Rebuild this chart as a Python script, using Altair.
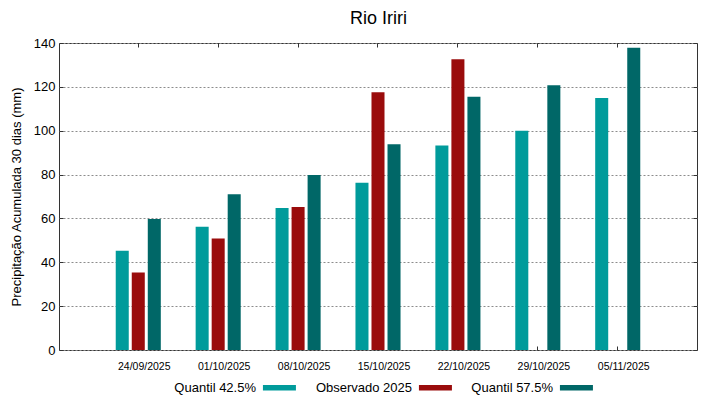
import altair as alt
import pandas as pd

dates = ["24/09/2025", "01/10/2025", "08/10/2025", "15/10/2025",
         "22/10/2025", "29/10/2025", "05/11/2025"]
series = ["Quantil 42.5%", "Observado 2025", "Quantil 57.5%"]
colors = ["#009b9b", "#9a0c0c", "#006767"]
q425 = [45.3, 56.2, 64.8, 76.3, 93.3, 100.0, 114.9]
obs = [35.3, 50.8, 65.2, 117.5, 132.6, None, None]
q575 = [59.7, 71.0, 79.8, 93.8, 115.5, 120.7, 137.8]
yticks = [0, 20, 40, 60, 80, 100, 120, 140]
chart_title = "Rio Iriri"

rows = []
for s, vals in zip(series, [q425, obs, q575]):
    for d, v in zip(dates, vals):
        if v is not None:
            rows.append({"date": d, "serie": s, "valor": v})
df = pd.DataFrame(rows)

W, H = 638, 307
FONT = "Liberation Sans"
xscale = alt.Scale(domain=dates, paddingInner=0.436, paddingOuter=0.71)
yscale = alt.Scale(domain=[0, 140], nice=False, zero=True)

bars = alt.Chart(df).mark_bar().encode(
    x=alt.X("date:N", scale=xscale, sort=dates, title=None,
            axis=alt.Axis(labelAngle=0, ticks=False, tickSize=0, domain=False, grid=False,
                          labelFontSize=10.5, labelPadding=11, labelOffset=6,
                          labelColor="#000", labelFont=FONT)),
    xOffset=alt.XOffset("serie:N", scale=alt.Scale(domain=series, paddingInner=0.1875, paddingOuter=0)),
    y=alt.Y("valor:Q", scale=yscale, title="Precipitação Acumulada 30 dias (mm)",
            axis=alt.Axis(values=yticks, ticks=False, tickSize=0, domain=False, grid=True,
                          gridDash=[2, 2], gridColor="#8c8c8c", gridWidth=1,
                          labelFontSize=13, labelPadding=4, labelColor="#000", labelFont=FONT,
                          titleFontSize=13, titleFontWeight="normal", titleColor="#000",
                          titleFont=FONT, titlePadding=10)),
    color=alt.Color("serie:N", scale=alt.Scale(domain=series, range=colors),
                    sort=series,
                    legend=alt.Legend(title=None, orient="none", legendX=164, legendY=328,
                                      direction="horizontal",
                                      symbolType="M1.42,-0.17L3.42,-0.17L3.42,0.17L1.42,0.17Z",
                                      symbolSize=1089, symbolStrokeWidth=0,
                                      labelAlign="right", labelOffset=0,
                                      labelFontSize=13, labelFont=FONT, labelColor="#000",
                                      columnPadding=19, padding=0)),
)

tick_kw = dict(labels=False, domain=False, grid=False, ticks=True, tickSize=4,
               tickColor="#333", tickWidth=1, title=None)

inner1 = alt.Chart(df).mark_point(opacity=0).encode(
    x=alt.X("date:N", scale=xscale, sort=dates, axis=alt.Axis(orient="top", offset=-H, **tick_kw)),
    y=alt.Y("valor:Q", scale=yscale, axis=alt.Axis(orient="right", offset=-W, values=yticks, **tick_kw)),
)
inner2 = alt.Chart(df).mark_point(opacity=0).encode(
    x=alt.X("date:N", scale=xscale, sort=dates, axis=alt.Axis(orient="bottom", offset=-H, **tick_kw)),
    y=alt.Y("valor:Q", scale=yscale, axis=alt.Axis(orient="left", offset=-W, values=yticks, **tick_kw)),
)
# chart title drawn as the title of an empty top axis, centred on the plot
title_layer = alt.Chart(df).mark_point(opacity=0).encode(
    x=alt.X("date:N", scale=xscale, sort=dates, title=chart_title,
            axis=alt.Axis(orient="top", offset=0, labels=False, ticks=False, domain=False,
                          grid=False, titleFontSize=18, titleFont=FONT,
                          titleFontWeight="normal", titleColor="#000",
                          titleBaseline="alphabetic", titlePadding=20)),
    y=alt.Y("valor:Q", scale=yscale, axis=None),
)

chart = alt.layer(bars, inner1, inner2, title_layer).resolve_axis(
    x="independent", y="independent"
).properties(
    width=W, height=H,
    padding={"left": 51, "top": 35, "right": 10, "bottom": 48},
    autosize=alt.AutoSizeParams(type="none"),
).configure(font=FONT).configure_view(stroke="#333", strokeWidth=1)

chart.save("out.html", embed_options={"renderer": "svg", "actions": False})
